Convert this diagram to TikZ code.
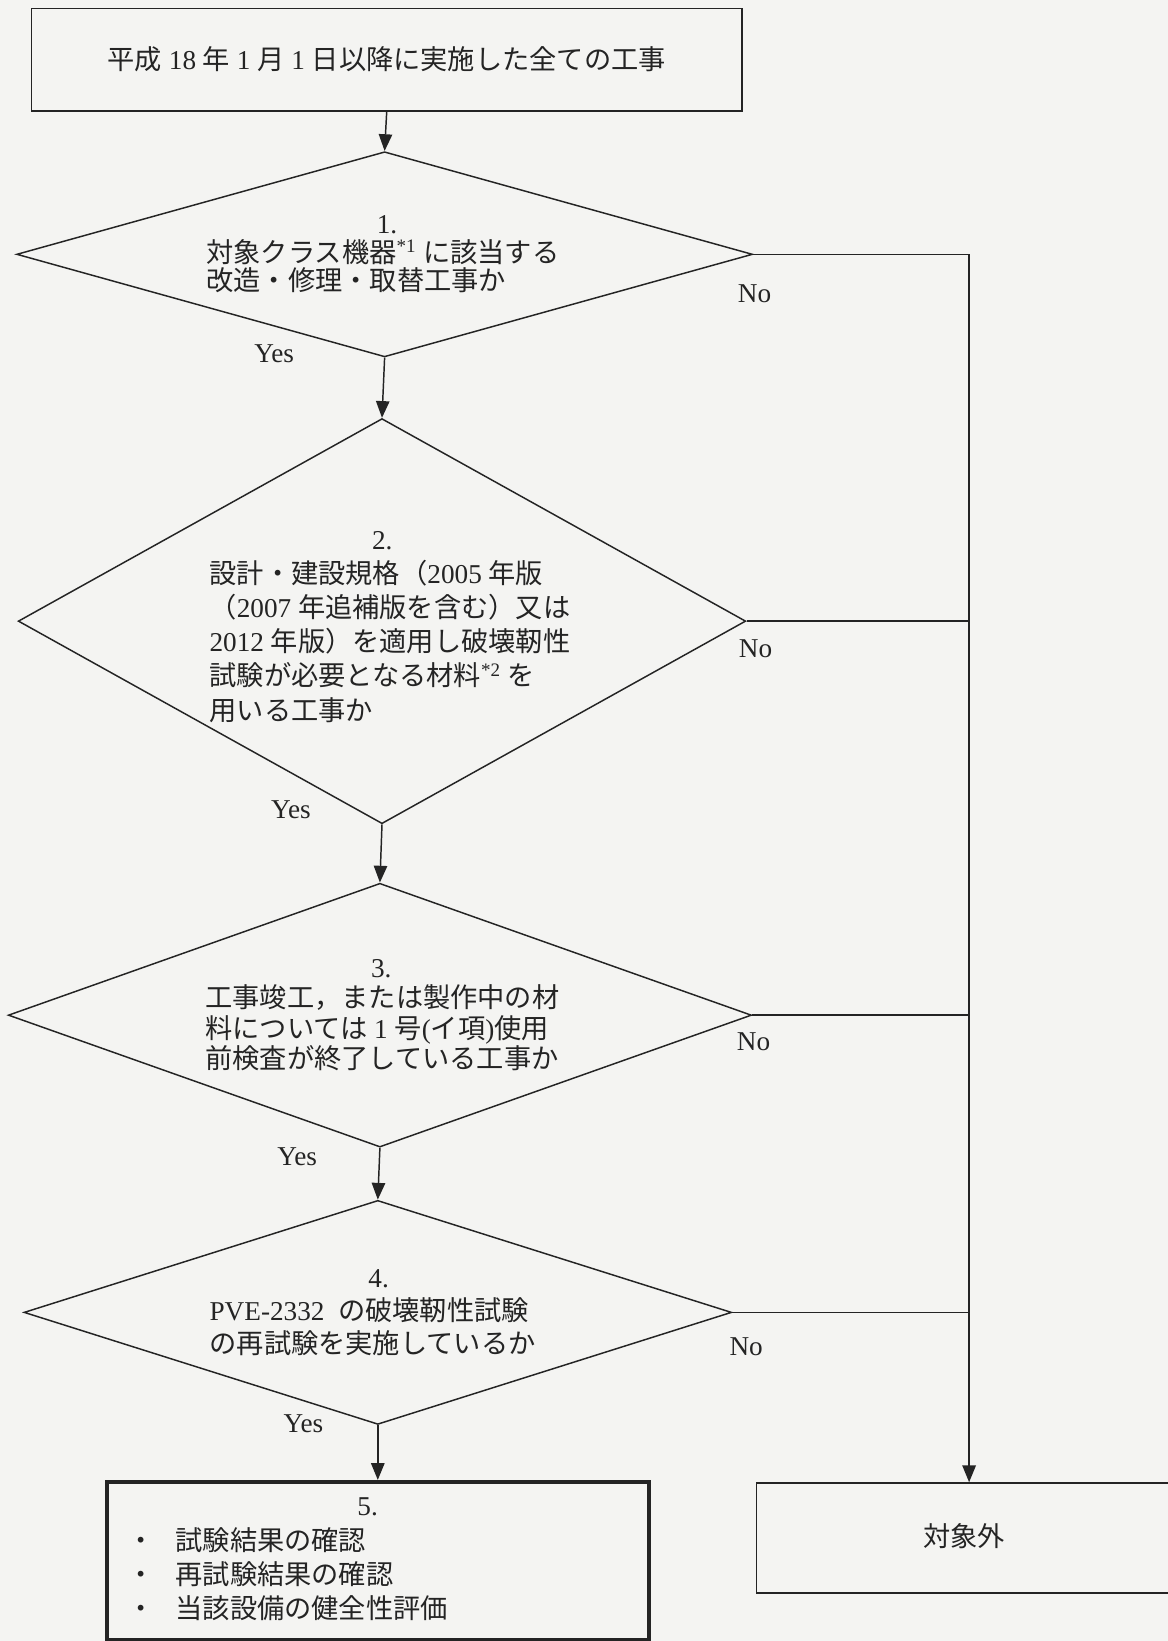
\documentclass[tikz,border=0pt]{standalone}
\usepackage{fontspec}
\setmainfont{Liberation Serif}
\newfontfamily\cjk{Noto Sans CJK JP}
\usetikzlibrary{arrows.meta,shapes.geometric}
\definecolor{paper}{RGB}{244,244,242}
\definecolor{ink}{RGB}{36,36,36}
\newcommand\J[1]{{\cjk #1}}
\begin{document}
\begin{tikzpicture}[x=0.025cm,y=-0.025cm,
  line/.style={draw=ink,line width=1pt},
  arr/.style={line,-{Triangle[length=0.4cm,width=0.32cm]}},
  dia/.style={shape=diamond,draw=ink,line width=1pt,inner sep=0pt},
  box/.style={draw=ink,line width=1pt,inner sep=0pt},
  txt/.style={text=ink,inner sep=0pt,align=left,anchor=west},
  lab/.style={text=ink,inner sep=0pt,font=\fontsize{18.5}{22}\selectfont}]

\fill[paper] (0,0) rectangle (1116,1568);
\useasboundingbox (0,0) rectangle (1116,1568);

% boxes
\node[box,minimum width=16.975cm,minimum height=2.45cm,text=ink,
  font=\fontsize{18.5}{22}\selectfont] (top) at (369.5,57)
  {\J{平成} 18 \J{年} 1 \J{月} 1 \J{日以降に実施した全ての工事}};

% diamonds
\node[dia,minimum width=17.575cm,minimum height=4.9cm] (d1) at (367.5,243) {};
\node[dia,minimum width=17.375cm,minimum height=9.675cm] (d2) at (365,593.5) {};
\node[dia,minimum width=17.75cm,minimum height=6.3cm] (d3) at (363,970) {};
\node[dia,minimum width=16.9cm,minimum height=5.35cm] (d4) at (361,1254) {};

% result boxes
\node[box,line width=2.7pt,minimum width=12.95cm,minimum height=3.775cm] (r5) at (361,1491.5) {};
\node[box,minimum width=10.05cm,minimum height=2.625cm] (o) at (924,1469.5) {};

% texts
\node[txt,font=\fontsize{18.5}{19.5}\selectfont] (t1) at (197,243)
  {\makebox[8.625cm]{1.}\\
   \J{対象クラス機器}\textsuperscript{*1} \J{に該当する}\\
   \J{改造・修理・取替工事か}};

\node[txt,font=\fontsize{18.5}{23.2}\selectfont] (t2) at (200,599)
  {\makebox[8.25cm]{2.}\\
   \J{設計・建設規格（}2005 \J{年版}\\
   \J{（}2007 \J{年追補版を含む）又は}\\
   2012 \J{年版）を適用し破壊靭性}\\
   \J{試験が必要となる材料}\textsuperscript{*2} \J{を}\\
   \J{用いる工事か}};

\node[txt,font=\fontsize{18.5}{20.8}\selectfont] (t3) at (196,970)
  {\makebox[8.4cm]{3.}\\
   \J{工事竣工，または製作中の材}\\
   \J{料については} 1 \J{号}(\J{イ項})\J{使用}\\
   \J{前検査が終了している工事か}};

\node[txt,font=\fontsize{18.5}{22.5}\selectfont] (t4) at (200,1254)
  {\makebox[8.075cm]{4.}\\
   PVE-2332\enspace\J{の破壊靭性試験}\\
   \J{の再試験を実施しているか}};

\node[txt,font=\fontsize{18.5}{23.2}\selectfont] (t5) at (122,1490)
  {\makebox[11.45cm]{5.}\\
   \J{・}\hspace{0.75em}\J{試験結果の確認}\\
   \J{・}\hspace{0.75em}\J{再試験結果の確認}\\
   \J{・}\hspace{0.75em}\J{当該設備の健全性評価}};

\node[text=ink,inner sep=0pt,font=\fontsize{18.5}{22}\selectfont] (to) at (921,1468) {\J{対象外}};

% Yes / No labels
\node[lab] (y1) at (262,338) {Yes};
\node[lab] (y2) at (278,774) {Yes};
\node[lab] (y3) at (284,1105) {Yes};
\node[lab] (y4) at (290,1360) {Yes};
\node[lab] (n1) at (721,281) {No};
\node[lab] (n2) at (722,620) {No};
\node[lab] (n3) at (720,995) {No};
\node[lab] (n4) at (713,1287) {No};

% rail
\coordinate (rail) at (926,243);

% connectors
\draw[arr] (top.south) -- (d1.north);
\draw[arr] (d1.south) -- (d2.north);
\draw[arr] (d2.south) -- (d3.north);
\draw[arr] (d3.south) -- (d4.north);
\draw[arr] (d4.south) -- (r5.north);

\draw[line] (d1.east) -- (d1.east -| rail);
\draw[line] (d2.east) -- (d2.east -| rail);
\draw[line] (d3.east) -- (d3.east -| rail);
\draw[line] (d4.east) -- (d4.east -| rail);
\draw[arr] (rail) -- (rail |- o.north);
\end{tikzpicture}
\end{document}
